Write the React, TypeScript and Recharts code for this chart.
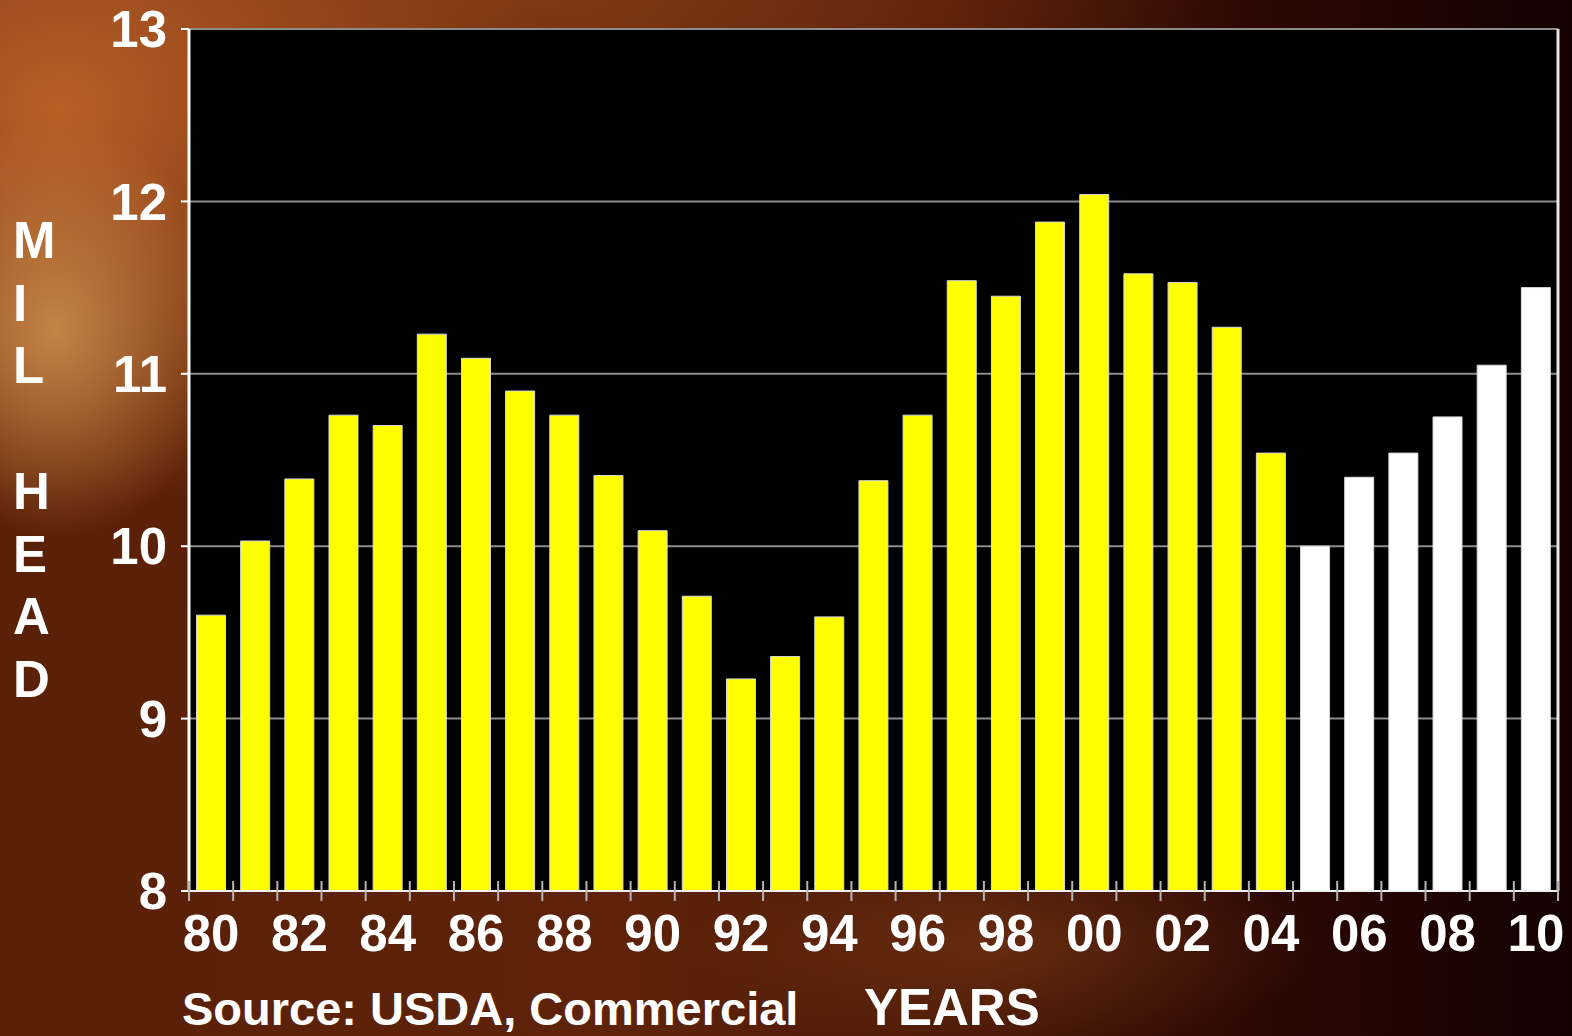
import { BarChart, Bar, XAxis, YAxis, CartesianGrid, Cell } from 'recharts';

const YEARS = [
  '80', '81', '82', '83', '84', '85', '86', '87', '88', '89',
  '90', '91', '92', '93', '94', '95', '96', '97', '98', '99',
  '00', '01', '02', '03', '04', '05', '06', '07', '08', '09', '10',
];

// million head, 1980-2004 (actual)
const ACTUAL = [
  9.6, 10.03, 10.39, 10.76, 10.7, 11.23, 11.09, 10.9, 10.76, 10.41,
  10.09, 9.71, 9.23, 9.36, 9.59, 10.38, 10.76, 11.54, 11.45, 11.88,
  12.04, 11.58, 11.53, 11.27, 10.54,
];

// 2005-2010 (projected, white bars)
const PROJECTED = [10.0, 10.4, 10.54, 10.75, 11.05, 11.5];

const Y_TICKS = [8, 9, 10, 11, 12, 13];
const AXIS_LETTERS = ['M', 'I', 'L', '', 'H', 'E', 'A', 'D'];

const W = 1572;
const H = 1036;
const LEFT_W = 189;
const RIGHT_W = 14;
const BAND = (W - LEFT_W - RIGHT_W) / YEARS.length;
const FONT = '"Liberation Sans", Arial, Helvetica, sans-serif';

const data = YEARS.map((year, i) => ({
  year,
  head: i < ACTUAL.length ? ACTUAL[i] : PROJECTED[i - ACTUAL.length],
  projected: i >= ACTUAL.length,
}));

function YearTick(props: any) {
  const { x, y, index, payload } = props;
  const half = BAND / 2;
  return (
    <g>
      <line x1={x - half} x2={x - half} y1={y - 10} y2={y + 10} stroke="#b4b4b4" strokeWidth={2} />
      {index === YEARS.length - 1 && (
        <line x1={x + half} x2={x + half} y1={y - 10} y2={y + 10} stroke="#b4b4b4" strokeWidth={2} />
      )}
      {index % 2 === 0 && (
        <text x={x} y={y + 60} textAnchor="middle" fill="#fff" fontSize={51} fontWeight="bold" fontFamily={FONT}>
          {payload.value}
        </text>
      )}
    </g>
  );
}

function SideLetters() {
  return (
    <g>
      {AXIS_LETTERS.map((ch, i) => (
        <text key={i} x={13} y={258 + i * 62.7} fill="#fff" fontSize={51} fontWeight="bold" fontFamily={FONT}>
          {ch}
        </text>
      ))}
    </g>
  );
}

function BottomNotes() {
  return (
    <g fontWeight="bold" fontFamily={FONT} fill="#fff">
      <text x={182} y={1025} fontSize={47}>Source: USDA, Commercial</text>
      <text x={864} y={1025} fontSize={51}>YEARS</text>
    </g>
  );
}

export default function App() {
  return (
    <div
      style={{
        position: 'absolute',
        left: 0,
        top: 0,
        width: W,
        height: H,
        background: [
          'radial-gradient(ellipse 170px 210px at 55px 330px, rgba(200,135,72,0.95), rgba(200,135,72,0) 100%)',
          'radial-gradient(ellipse 480px 400px at 60px 110px, rgba(188,98,40,0.97), rgba(188,98,40,0) 100%)',
          'radial-gradient(ellipse 700px 160px at 520px 0px, rgba(140,62,24,0.8), rgba(140,62,24,0) 100%)',
          'radial-gradient(ellipse 320px 110px at 1000px 945px, rgba(125,62,24,0.55), rgba(125,62,24,0) 100%)',
          'linear-gradient(to right, #5a2008 0%, #5e230a 40%, #4a1706 62%, #2c0804 80%, #140101 100%)',
        ].join(', '),
      }}
    >
      <BarChart
        width={W}
        height={H}
        data={data}
        margin={{ top: 29, right: 0, bottom: 0, left: 0 }}
        barCategoryGap="17%"
      >
        <CartesianGrid yAxisId="l" vertical={false} fill="#000" stroke="#8c8c8c" strokeWidth={2} />
        <XAxis
          dataKey="year"
          interval={0}
          height={145}
          tickLine={false}
          tickSize={0}
          tickMargin={0}
          axisLine={{ stroke: '#f0f0f0', strokeWidth: 2 }}
          tick={<YearTick />}
          label={{ content: () => <BottomNotes /> }}
        />
        <YAxis
          yAxisId="l"
          width={LEFT_W}
          domain={[8, 13]}
          ticks={Y_TICKS}
          tickSize={8}
          tickMargin={14}
          tickLine={{ stroke: '#fff', strokeWidth: 2 }}
          axisLine={{ stroke: '#fff', strokeWidth: 3 }}
          tick={{ fill: '#fff', fontSize: 51, fontWeight: 'bold', fontFamily: FONT }}
          label={{ content: () => <SideLetters /> }}
        />
        <YAxis
          yAxisId="r"
          orientation="right"
          width={RIGHT_W}
          domain={[8, 13]}
          ticks={Y_TICKS}
          tick={false}
          tickLine={false}
          axisLine={{ stroke: '#e6e6e6', strokeWidth: 3 }}
        />
        <Bar yAxisId="l" dataKey="head" stroke="#d8d8d8" strokeWidth={1} isAnimationActive={false}>
          {data.map((d, i) => (
            <Cell key={i} fill={d.projected ? '#ffffff' : '#ffff00'} />
          ))}
        </Bar>
      </BarChart>
    </div>
  );
}
